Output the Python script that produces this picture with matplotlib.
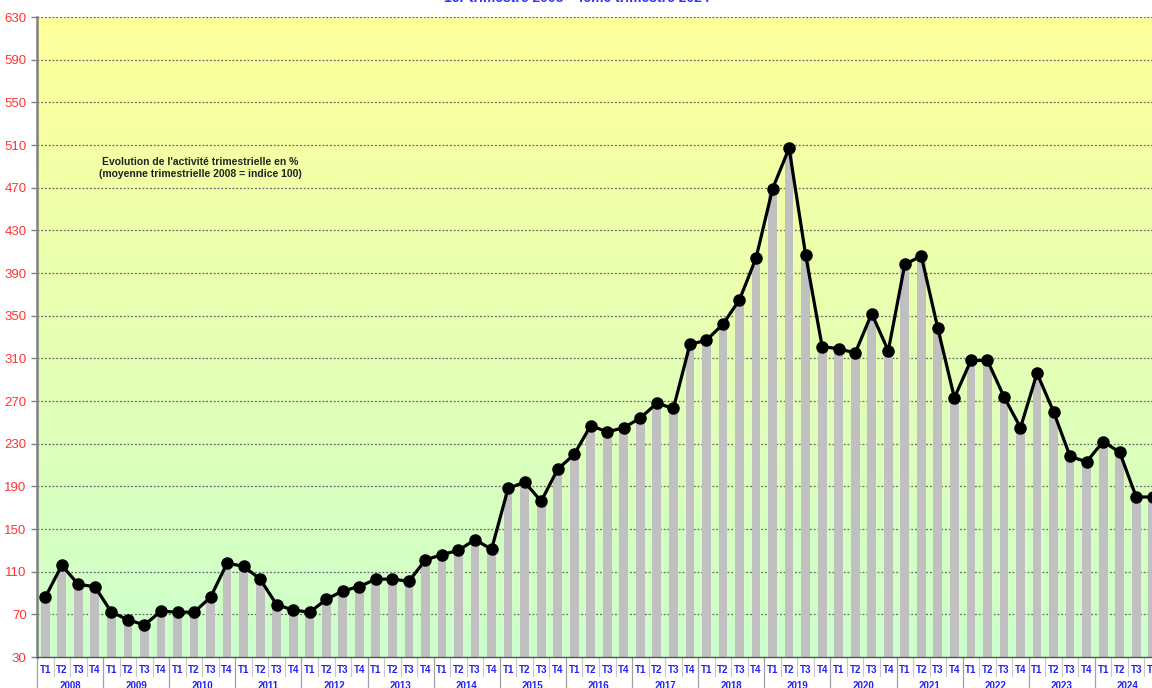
import matplotlib
matplotlib.use("Agg")
import matplotlib.pyplot as plt
import numpy as np
from matplotlib.colors import LinearSegmentedColormap

plt.rcParams["font.family"] = ["Liberation Sans", "DejaVu Sans"]

# ── Data ──────────────────────────────────────────────────────────────────────
years = [str(y) for y in range(2008, 2025)]
quarters = ["T1", "T2", "T3", "T4"]
values = [
    86, 116, 98, 96,        # 2008
    72, 65, 60, 73,         # 2009
    72, 72, 86, 118,        # 2010
    115, 103, 79, 74,       # 2011
    72, 84, 92, 96,         # 2012
    103, 103, 101, 121,     # 2013
    126, 130, 140, 131,     # 2014
    188, 194, 176, 206,     # 2015
    220, 247, 241, 245,     # 2016
    254, 268, 263, 323,     # 2017
    327, 342, 365, 404,     # 2018
    469, 507, 407, 321,     # 2019
    319, 315, 352, 317,     # 2020
    398, 406, 338, 273,     # 2021
    308, 308, 274, 245,     # 2022
    296, 260, 218, 213,     # 2023
    232, 222, 180, 180,     # 2024
]
yticks = list(range(30, 631, 40))
title = "1er trimestre 2008 - 4ème trimestre 2024"
note = "Evolution de l'activité trimestrielle en %\n(moyenne trimestrielle 2008 = indice 100)"

# ── Canvas ────────────────────────────────────────────────────────────────────
fig = plt.figure(figsize=(11.52, 6.88), dpi=100)
fig.patch.set_facecolor("white")
ax = fig.add_axes([37 / 1152, 31 / 688, 1124 / 1152, 640 / 688])

n = len(values)
x = np.arange(n)
ax.set_xlim(-0.5, n - 0.5)
ax.set_ylim(30, 630)

# background gradient yellow -> green
cmap = LinearSegmentedColormap.from_list("bg", ["#ccffcc", "#ffff99"])
grad = np.linspace(0, 1, 256).reshape(-1, 1)
ax.imshow(grad, cmap=cmap, aspect="auto", origin="lower",
          extent=[-0.5, n - 0.5, 30, 630], zorder=0)

# grid
for yv in yticks[1:]:
    ax.axhline(yv, color="#666666", linestyle=(0, (1.5, 1.5)), linewidth=0.9, zorder=1)

# bars + line
ax.bar(x, values, width=0.53, color="#c0c0c0", zorder=2)
ax.plot(x, values, color="black", linewidth=2.3, marker="o",
        markersize=8, markerfacecolor="black", zorder=3, clip_on=False)

# spines
for s in ["top", "right"]:
    ax.spines[s].set_visible(False)
ax.spines["left"].set_color("#808080")
ax.spines["left"].set_linewidth(1.8)
ax.spines["bottom"].set_color("#555555")
ax.spines["bottom"].set_linewidth(1.0)

# y ticks
ax.set_yticks(yticks)
ax.tick_params(axis="y", colors="#808080", length=4, width=1)
for lbl in ax.get_yticklabels():
    lbl.set_color("#ff3333")
    lbl.set_fontsize(9.5)

# x labels: quarters
ax.set_xticks(x)
ax.set_xticklabels(quarters * len(years), color="#2222ee",
                   fontsize=7, fontweight="bold")
ax.tick_params(axis="x", length=0, pad=6)

# separators below the axis
trans = ax.get_xaxis_transform()
for i in range(n + 1):
    b = i - 0.5
    if i % 4 == 0:
        ax.plot([b, b], [0, -0.05], color="#a0a0a0", linewidth=0.9,
                transform=trans, clip_on=False)
    else:
        ax.plot([b, b], [0, -0.03], color="#c8c8c8", linewidth=0.8,
                transform=trans, clip_on=False)

# year labels (cut by the bottom edge, as in the source)
for k, yr in enumerate(years):
    ax.text(4 * k + 1.5, -0.046, yr, transform=trans, ha="center", va="center",
            fontsize=7, fontweight="bold", color="#2222ee", clip_on=False)

# note
fig.text(200 / 1152, 1 - 168 / 688, note, ha="center", va="center",
         fontsize=7.5, fontweight="bold", color="#222222", linespacing=1.2)

# cut-off title
fig.text(577 / 1152, 1 - 1.5 / 688, title, ha="center", va="baseline",
         fontsize=10, fontweight="bold", color="#3333ff")

fig.savefig("out.png", dpi=100, facecolor="white")
